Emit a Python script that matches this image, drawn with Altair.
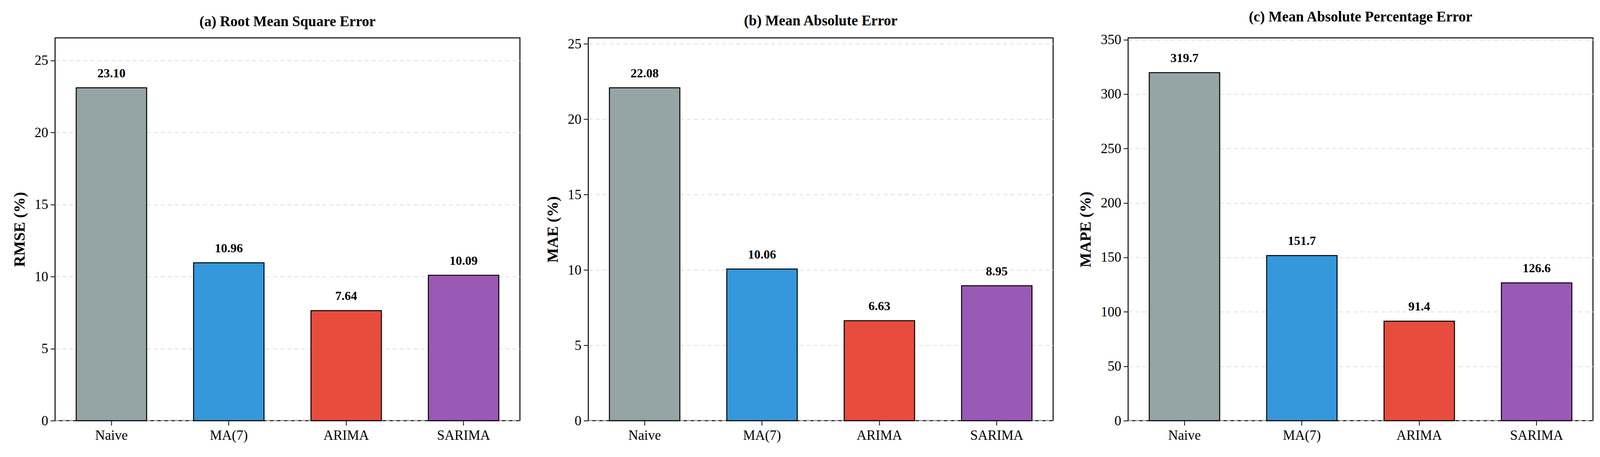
import pandas as pd
import altair as alt

MODELS = ["Naive", "MA(7)", "ARIMA", "SARIMA"]
COLORS = ["#95a5a6", "#3498db", "#e74c3c", "#9b59b6"]
RMSE = [23.10, 10.96, 7.64, 10.09]
MAE = [22.08, 10.06, 6.63, 8.95]
MAPE = [319.7, 151.7, 91.4, 126.6]

FONT = "Liberation Serif"


def panel(values, title, ytitle, fmt, top):
    df = pd.DataFrame({"Model": MODELS, "Value": values})
    x = alt.X("Model:N", sort=MODELS, title=None,
              scale=alt.Scale(paddingInner=0.4, paddingOuter=0.18),
              axis=alt.Axis(labelAngle=0, labelFontSize=35, labelPadding=8,
                            tickSize=12, tickWidth=2, tickColor="black", domain=False))
    y = alt.Y("Value:Q", title=ytitle,
              scale=alt.Scale(domain=[0, top], nice=False, zero=True),
              axis=alt.Axis(labelFontSize=35, titleFontSize=40, titleFontWeight="bold",
                            titlePadding=18, tickSize=12, tickWidth=2, tickColor="black",
                            domain=False, grid=True, gridDash=[10, 8], gridColor="#dddddd",
                            gridWidth=2, tickCount=8, labelPadding=6))
    bars = alt.Chart(df).mark_bar(stroke="black", strokeWidth=2.5).encode(
        x=x, y=y,
        color=alt.Color("Model:N", scale=alt.Scale(domain=MODELS, range=COLORS), legend=None),
    )
    labels = alt.Chart(df).mark_text(baseline="bottom", dy=-20, fontSize=32,
                                     fontWeight="bold", font=FONT, color="black").encode(
        x=alt.X("Model:N", sort=MODELS),
        y="Value:Q",
        text=alt.Text("Value:Q", format=fmt),
    )
    return (bars + labels).properties(
        width=1190, height=980,
        title=alt.TitleParams(title, fontSize=37, fontWeight="bold", font=FONT, offset=22),
    )


chart = alt.hconcat(
    panel(RMSE, "(a) Root Mean Square Error", "RMSE (%)", ".2f", 23.10 * 1.15),
    panel(MAE, "(b) Mean Absolute Error", "MAE (%)", ".2f", 22.08 * 1.15),
    panel(MAPE, "(c) Mean Absolute Percentage Error", "MAPE (%)", ".1f", 319.7 * 1.1),
    spacing=60,
).configure_view(
    stroke="black", strokeWidth=2.5
).configure_axis(
    labelFont=FONT, titleFont=FONT, labelColor="black", titleColor="black"
).properties(background="white", padding={"left": 20, "top": 15, "right": 5, "bottom": 5})

chart.save("out.html", embed_options={"renderer": "svg", "actions": False})
